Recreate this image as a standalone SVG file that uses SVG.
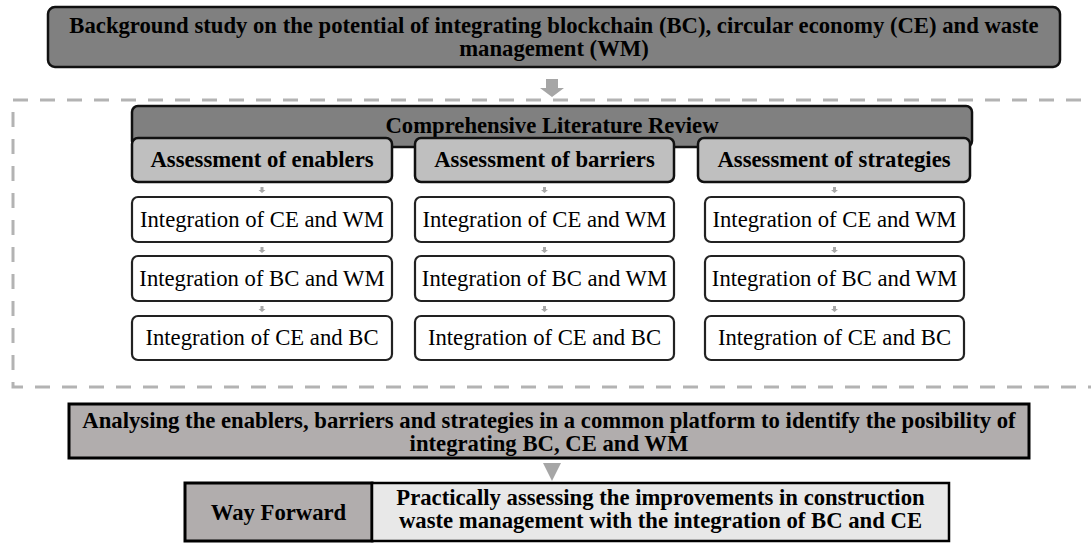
<svg xmlns="http://www.w3.org/2000/svg" width="1091" height="543" viewBox="0 0 1091 543">
<defs>
<style>
text{font-family:"Liberation Serif","Times New Roman",serif;font-size:22.7px;fill:#000;text-anchor:middle}
.b{font-weight:bold}
.dark{fill:#808080;stroke:#111;stroke-width:2.5}
.mid{fill:#bfbfbf;stroke:#111;stroke-width:2.5}
.white{fill:#fff;stroke:#222;stroke-width:2.2}
.warm{fill:#b1adad;stroke:#000;stroke-width:3}
.light{fill:#e8e8e8;stroke:#000;stroke-width:2.5}
.arr{fill:#a6a6a6}
.sarr{fill:#a8a8a8}
.dash{fill:none;stroke:#b3b3b3;stroke-width:3;stroke-dasharray:15 12}
</style>
</defs>
<rect class="dash" x="13" y="100" width="1090" height="287"/>
<g id="n-background">
<rect class="dark" x="48" y="7" width="1012" height="60" rx="7"/>
<text class="b"><tspan x="554" y="33">Background study on the potential of integrating blockchain (BC), circular economy (CE) and waste</tspan><tspan x="554" y="56">management (WM)</tspan></text>
</g>
<g id="n-clr">
<rect class="dark" x="132" y="106" width="840" height="41" rx="6"/>
<text class="b" x="552" y="133">Comprehensive Literature Review</text>
</g>
<g id="n-enablers">
<rect class="mid" x="132" y="138" width="260" height="44" rx="6"/>
<text class="b" x="262" y="167">Assessment of enablers</text>
</g>
<g id="n-barriers">
<rect class="mid" x="415" y="138" width="259" height="44" rx="6"/>
<text class="b" x="544.5" y="167">Assessment of barriers</text>
</g>
<g id="n-strategies">
<rect class="mid" x="698" y="138" width="272" height="44" rx="6"/>
<text class="b" x="834" y="167">Assessment of strategies</text>
</g>
<g id="n-e1"><rect class="white" x="132" y="197" width="260" height="45" rx="6"/><text x="262" y="227">Integration of CE and WM</text></g>
<g id="n-e2"><rect class="white" x="132" y="256" width="260" height="45" rx="6"/><text x="262" y="286">Integration of BC and WM</text></g>
<g id="n-e3"><rect class="white" x="132" y="316" width="260" height="44" rx="6"/><text x="262" y="345">Integration of CE and BC</text></g>
<g id="n-b1"><rect class="white" x="415" y="197" width="259" height="45" rx="6"/><text x="544.5" y="227">Integration of CE and WM</text></g>
<g id="n-b2"><rect class="white" x="415" y="256" width="259" height="45" rx="6"/><text x="544.5" y="286">Integration of BC and WM</text></g>
<g id="n-b3"><rect class="white" x="415" y="316" width="259" height="44" rx="6"/><text x="544.5" y="345">Integration of CE and BC</text></g>
<g id="n-s1"><rect class="white" x="705" y="197" width="259" height="45" rx="6"/><text x="834.5" y="227">Integration of CE and WM</text></g>
<g id="n-s2"><rect class="white" x="705" y="256" width="259" height="45" rx="6"/><text x="834.5" y="286">Integration of BC and WM</text></g>
<g id="n-s3"><rect class="white" x="705" y="316" width="259" height="44" rx="6"/><text x="834.5" y="345">Integration of CE and BC</text></g>
<g id="n-analysing">
<rect class="warm" x="69" y="404" width="960" height="54"/>
<text class="b"><tspan x="549" y="428">Analysing the enablers, barriers and strategies in a common platform to identify the posibility of</tspan><tspan x="549" y="451">integrating BC, CE and WM</tspan></text>
</g>
<g id="n-wayforward">
<rect class="warm" x="185" y="483" width="187" height="58" stroke-width="2.5"/>
<text class="b" x="278.5" y="520">Way Forward</text>
</g>
<g id="n-practical">
<rect class="light" x="372" y="483" width="577" height="58"/>
<text class="b"><tspan x="660.5" y="505">Practically assessing the improvements in construction</tspan><tspan x="660.5" y="528">waste management with the integration of BC and CE</tspan></text>
</g>
<g id="connectors">
<path class="arr" d="M546 79h12v9h6l-12 9l-12-9h6z"/>
<path class="sarr" d="M260.5 187h3v3h2l-3.5 3l-3.5-3h2z"/>
<path class="sarr" d="M260.5 247h3v3h2l-3.5 3l-3.5-3h2z"/>
<path class="sarr" d="M260.5 306h3v3h2l-3.5 3l-3.5-3h2z"/>
<path class="sarr" d="M543 187h3v3h2l-3.5 3l-3.5-3h2z"/>
<path class="sarr" d="M543 247h3v3h2l-3.5 3l-3.5-3h2z"/>
<path class="sarr" d="M543 306h3v3h2l-3.5 3l-3.5-3h2z"/>
<path class="sarr" d="M833 187h3v3h2l-3.5 3l-3.5-3h2z"/>
<path class="sarr" d="M833 247h3v3h2l-3.5 3l-3.5-3h2z"/>
<path class="sarr" d="M833 306h3v3h2l-3.5 3l-3.5-3h2z"/>
<path class="arr" d="M543 463h18l-9 18z"/>
</g>
</svg>
